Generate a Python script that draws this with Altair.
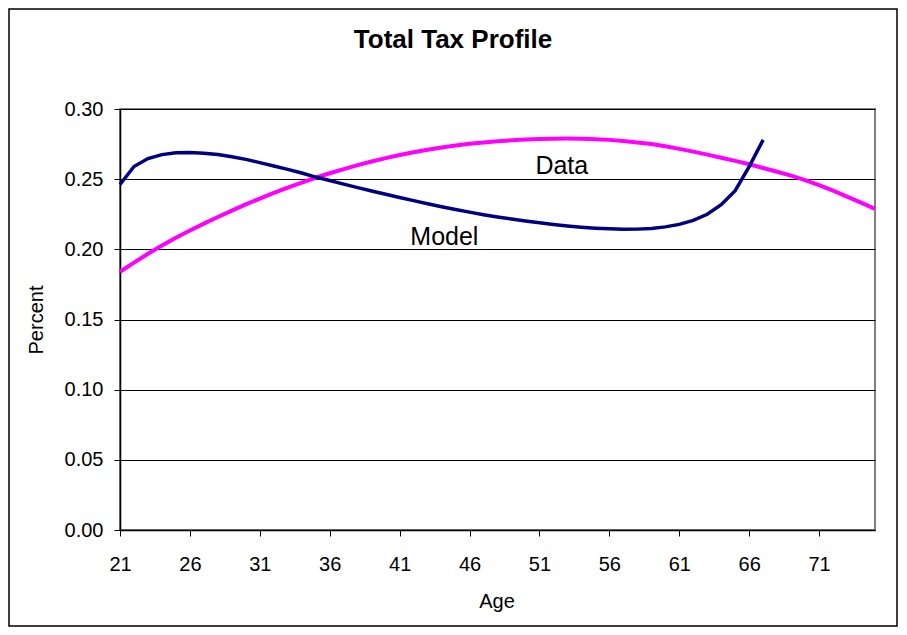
import altair as alt
import pandas as pd

model_ages = list(range(21, 68))
model_vals = [0.2462, 0.2590, 0.2647, 0.2675, 0.2688, 0.2690, 0.2685, 0.2676, 0.2660, 0.2641,
              0.2618, 0.2594, 0.2570, 0.2544, 0.2515, 0.2490, 0.2465, 0.2440, 0.2416, 0.2392,
              0.2369, 0.2347, 0.2325, 0.2304, 0.2284, 0.2265, 0.2247, 0.2231, 0.2216, 0.2202,
              0.2189, 0.2177, 0.2167, 0.2158, 0.2151, 0.2146, 0.2143, 0.2144, 0.2149, 0.2160,
              0.2178, 0.2206, 0.2250, 0.2318, 0.2418, 0.2590, 0.2780]

data_ages = list(range(21, 76))
data_vals = [0.1840, 0.1905, 0.1968, 0.2027, 0.2082, 0.2134, 0.2183, 0.2230, 0.2276, 0.2320,
             0.2362, 0.2402, 0.2440, 0.2476, 0.2510, 0.2542, 0.2572, 0.2600, 0.2626, 0.2650,
             0.2672, 0.2692, 0.2710, 0.2726, 0.2740, 0.2752, 0.2762, 0.2770, 0.2777, 0.2782,
             0.2786, 0.2788, 0.2789, 0.2788, 0.2785, 0.2780, 0.2772, 0.2762, 0.2750, 0.2734,
             0.2716, 0.2696, 0.2675, 0.2653, 0.2630, 0.2606, 0.2580, 0.2553, 0.2525, 0.2493,
             0.2458, 0.2418, 0.2376, 0.2333, 0.2288]

x_ticks = [21, 26, 31, 36, 41, 46, 51, 56, 61, 66, 71]
y_ticks = [0.0, 0.05, 0.10, 0.15, 0.20, 0.25, 0.30]

labels = pd.DataFrame({"text": ["Data", "Model"], "age": [52.6, 44.2], "value": [0.2594, 0.2088]})

W, H = 755, 421
FONT = "Liberation Sans"

model_df = pd.DataFrame({"age": model_ages, "value": model_vals})
data_df = pd.DataFrame({"age": data_ages, "value": data_vals})

xs = alt.Scale(domain=[21, 75], nice=False, zero=False)
ys = alt.Scale(domain=[0, 0.3], nice=False)

x_axis = alt.Axis(values=x_ticks, title=None, grid=False, labelFontSize=20, labelFont=FONT,
                  labelColor="black", tickColor="black", tickSize=6, labelPadding=18,
                  domainColor="black", domainWidth=1.5, labelFlush=False)
y_axis = alt.Axis(values=y_ticks, format=".2f", title=None, grid=True, gridColor="black",
                  gridWidth=1, labelFontSize=20, labelFont=FONT, labelColor="black",
                  tickColor="black", tickSize=6, labelPadding=11, domainColor="black",
                  domainWidth=1.5, labelFlush=False)

data_line = alt.Chart(data_df).mark_line(color="#FF00FF", strokeWidth=4).encode(
    x=alt.X("age:Q", scale=xs, axis=x_axis),
    y=alt.Y("value:Q", scale=ys, axis=y_axis),
)
model_line = alt.Chart(model_df).mark_line(color="#000080", strokeWidth=3.5).encode(
    x=alt.X("age:Q", scale=xs),
    y=alt.Y("value:Q", scale=ys),
)
text_labels = alt.Chart(labels).mark_text(fontSize=25, font=FONT, color="black").encode(
    x=alt.X("age:Q", scale=xs), y=alt.Y("value:Q", scale=ys), text="text:N"
)

one = pd.DataFrame({"a": [0]})
title = alt.Chart(one).mark_text(text="Total Tax Profile", fontSize=26, fontWeight="bold",
                                 font=FONT, color="black", baseline="middle").encode(
    x=alt.value(333), y=alt.value(-69))
xtitle = alt.Chart(one).mark_text(text="Age", fontSize=20, font=FONT, color="black",
                                  baseline="middle").encode(x=alt.value(377), y=alt.value(493))
ytitle = alt.Chart(one).mark_text(text="Percent", fontSize=20, font=FONT, color="black",
                                  baseline="middle", angle=270).encode(x=alt.value(-83), y=alt.value(211))
border = alt.Chart(one).mark_rect(fill=None, stroke="black", strokeWidth=1.5).encode(
    x=alt.value(-111), x2=alt.value(W + 22), y=alt.value(-100), y2=alt.value(H + 96))

chart = alt.layer(data_line, model_line, text_labels, title, xtitle, ytitle, border).properties(
    width=W, height=H,
    padding={"left": 112, "top": 101, "right": 23, "bottom": 97},
    autosize="none",
    background="white",
).configure_view(stroke="#808080", strokeWidth=2)

chart.save("out.html", embed_options={"renderer": "svg", "actions": False})
